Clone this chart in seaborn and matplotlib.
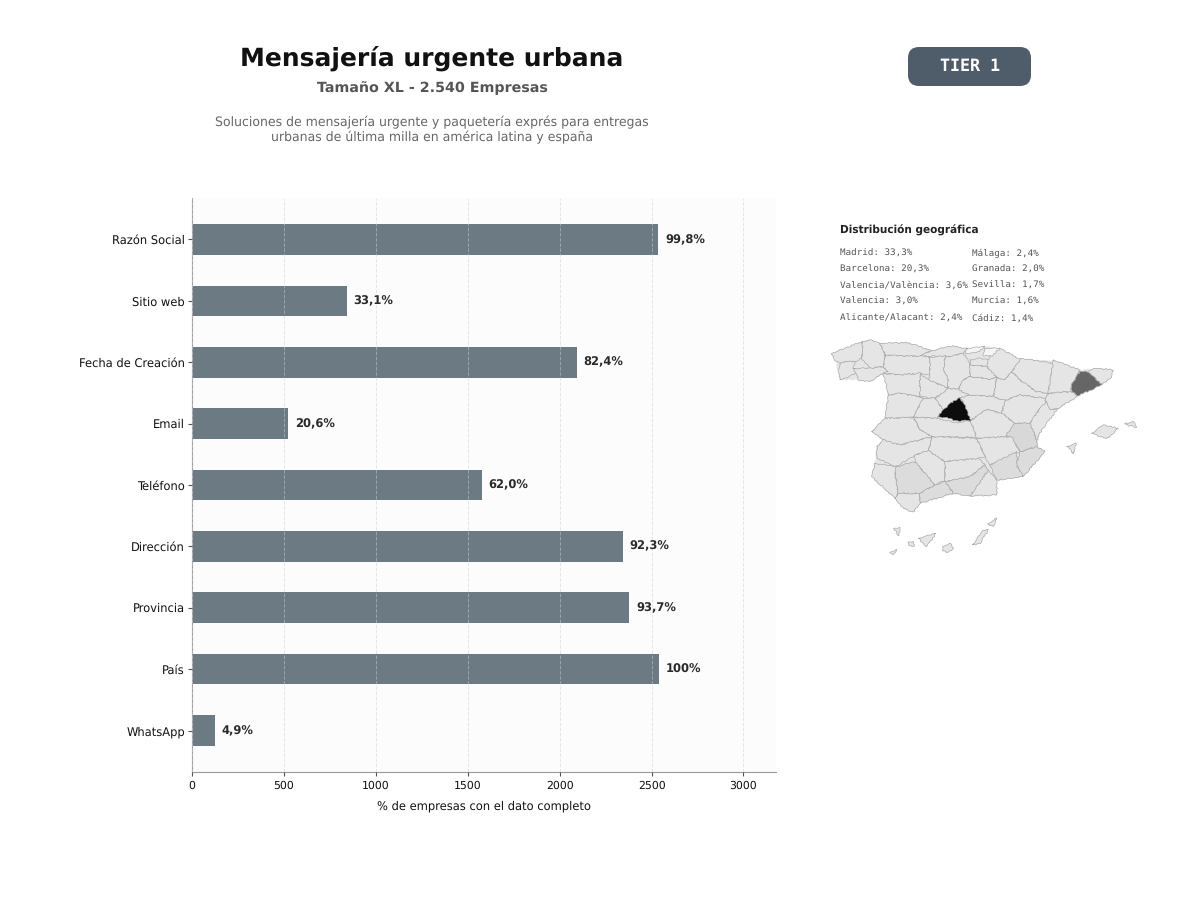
import matplotlib
matplotlib.use('Agg')
import matplotlib.pyplot as plt
import seaborn as sns
import pandas as pd
from matplotlib.patches import FancyBboxPatch, Polygon

campos = ['Razón Social', 'Sitio web', 'Fecha de Creación', 'Email', 'Teléfono',
          'Dirección', 'Provincia', 'País', 'WhatsApp']
empresas = [2535, 841, 2093, 523, 1575, 2344, 2380, 2540, 124]
etiquetas = ['99,8%', '33,1%', '82,4%', '20,6%', '62,0%', '92,3%', '93,7%', '100%', '4,9%']
ticks_x = [0, 500, 1000, 1500, 2000, 2500, 3000]

geo_col1 = ['Madrid: 33,3%', 'Barcelona: 20,3%', 'Valencia/València: 3,6%', 'Valencia: 3,0%', 'Alicante/Alacant: 2,4%']
geo_col2 = ['Málaga: 2,4%', 'Granada: 2,0%', 'Sevilla: 1,7%', 'Murcia: 1,6%', 'Cádiz: 1,4%']

# outlines traced by hand from the reference map
peninsula = [(35,70),(75,55),(125,35),(150,30),(180,40),(265,38),(335,62),(395,48),(440,55),(495,50),
             (540,55),(605,90),(700,90),(780,120),(830,115),(880,120),(875,140),(845,165),(775,197),
             (715,235),(690,245),(665,300),(650,345),(675,365),(610,440),(530,450),(530,495),(450,498),
             (400,490),(300,520),(280,547),(250,535),(225,505),(155,440),(165,400),(170,350),(190,330),
             (155,305),(195,265),(205,195),(190,130),(150,155),(115,150),(60,150),(55,125),(45,90)]
coruna = [(35,70),(75,55),(125,35),(130,60),(125,85),(105,95),(70,95),(60,100),(45,90)]
lugo = [(125,35),(150,30),(180,40),(195,75),(190,110),(150,115),(125,85),(130,60)]
pontevedra = [(60,100),(70,95),(105,95),(100,115),(110,130),(60,150),(55,125)]
ourense = [(100,115),(150,115),(190,110),(205,125),(190,130),(150,155),(115,150),(110,130)]
asturias = [(180,40),(265,38),(335,62),(300,78),(250,78),(195,75)]
cantabria = [(335,62),(395,48),(440,55),(430,70),(390,80),(340,78),(300,78)]
leon = [(195,75),(250,78),(300,78),(330,82),(330,135),(300,130),(235,135),(190,130),(205,125),(190,110)]
palencia = [(330,82),(375,78),(372,120),(385,150),(385,175),(350,160),(325,150),(330,135)]
burgos = [(375,78),(390,80),(430,70),(450,100),(450,140),(430,150),(415,178),(385,175),(385,150),(372,120)]
bizkaia = [(440,55),(495,50),(470,68),(435,70)]
gipuzkoa = [(495,55),(540,55),(515,78),(490,78)]
alava = [(450,90),(475,85),(510,90),(500,110),(450,105)]
navarra = [(510,78),(540,55),(605,90),(575,125),(555,150),(530,142),(500,110)]
rioja = [(450,105),(500,110),(530,142),(510,148),(450,140)]
huesca = [(605,85),(700,100),(685,190),(650,185),(600,150),(575,125)]
lleida = [(700,90),(780,120),(755,165),(752,185),(685,190)]
girona = [(795,125),(830,115),(880,120),(875,140),(845,165),(815,135)]
barcelona = [(780,125),(795,123),(815,135),(845,165),(775,197),(755,185),(755,165)]
tarragona = [(685,190),(752,185),(775,197),(715,235),(690,240),(675,210)]
soria = [(450,140),(510,148),(530,142),(520,200),(445,195),(415,178),(430,150)]
zaragoza = [(530,142),(555,150),(575,125),(600,150),(650,185),(685,190),(675,205),(600,195),(555,212),(520,200)]
teruel = [(555,212),(600,195),(675,205),(680,225),(660,235),(630,280),(585,280),(545,250)]
castellon = [(680,215),(690,240),(712,238),(665,300),(650,330),(630,280),(660,235)]
guadalajara = [(445,195),(520,200),(555,212),(545,250),(500,238),(450,272),(430,215),(420,205)]
segovia = [(345,205),(385,175),(415,178),(445,195),(420,205),(370,240)]
valladolid = [(300,130),(325,150),(350,160),(385,175),(345,205),(300,200)]
zamora = [(190,130),(235,135),(300,130),(300,200),(240,190),(205,195)]
salamanca = [(205,195),(240,190),(300,200),(310,205),(280,262),(195,265)]
avila = [(310,205),(345,205),(370,240),(350,265),(280,262)]
madrid = [(418,203),(428,215),(440,240),(452,272),(405,272),(375,262),(352,262),(370,240),(395,218)]
toledo = [(280,262),(350,265),(405,278),(452,272),(470,322),(335,320),(300,300)]
cuenca = [(452,272),(500,238),(545,250),(585,280),(560,320),(470,325)]
valencia = [(585,280),(630,280),(650,330),(650,350),(600,365),(575,320),(558,315)]
alicante = [(600,365),(650,350),(675,365),(610,440),(590,405)]
murcia = [(510,405),(590,365),(590,405),(610,440),(530,450)]
albacete = [(470,325),(560,320),(575,320),(600,365),(510,405),(495,380)]
ciudad_real = [(335,320),(470,325),(495,380),(475,385),(375,395),(325,362)]
caceres = [(155,305),(195,265),(280,262),(300,300),(335,320),(240,345),(190,330)]
badajoz = [(170,350),(190,330),(240,345),(335,320),(325,362),(285,375),(230,410),(170,385)]
huelva = [(165,400),(230,410),(225,430),(235,490),(225,505),(155,440)]
sevilla = [(230,410),(285,395),(345,465),(300,490),(235,490),(225,430)]
cordoba = [(285,375),(325,362),(375,395),(375,450),(345,465),(285,395)]
jaen = [(375,395),(475,385),(495,405),(450,440),(375,455)]
granada = [(375,455),(450,440),(495,405),(505,420),(450,498),(400,490)]
almeria = [(505,420),(530,450),(530,495),(450,498)]
malaga = [(345,465),(375,455),(400,490),(300,520),(300,490)]
cadiz = [(225,505),(235,490),(300,490),(300,520),(280,547),(250,535)]
mallorca = [(815,310),(850,285),(895,295),(860,327)]
menorca = [(915,280),(940,275),(950,292),(925,286)]
ibiza = [(740,350),(768,340),(760,372),(750,355)]
tenerife = [(295,625),(348,610),(320,650)]
la_palma = [(222,595),(240,592),(236,618)]
la_gomera = [(265,636),(280,634),(282,648),(268,648)]
gran_canaria = [(368,650),(390,640),(400,655),(385,668),(368,660)]
fuerteventura = [(458,645),(490,600),(505,600),(480,640)]
lanzarote = [(503,582),(530,565),(520,590)]
el_hierro = [(210,667),(230,658),(220,674)]

provincias_base = [coruna, lugo, pontevedra, ourense, asturias, cantabria, leon, palencia, burgos,
                   alava, navarra, rioja, huesca, lleida, girona, tarragona, soria, zaragoza, teruel,
                   castellon, guadalajara, segovia, valladolid, zamora, salamanca, avila, toledo,
                   cuenca, albacete, ciudad_real, caceres, badajoz, huelva, cordoba, jaen, almeria,
                   cadiz, mallorca, menorca, ibiza, tenerife, la_palma, la_gomera, gran_canaria,
                   fuerteventura, lanzarote, el_hierro]
provincias_medias = [alicante, murcia, sevilla, granada, malaga]
provincias_claras = [bizkaia, gipuzkoa]

sns.set_theme(style='white')
plt.rcParams['font.family'] = 'DejaVu Sans'
plt.rcParams['text.hinting'] = 'none'

df = pd.DataFrame({'campo': campos, 'empresas': empresas})

fig = plt.figure(figsize=(12, 9), dpi=100)
ax = fig.add_axes([192/1200, 1-772/900, 584/1200, 574/900])
sns.barplot(data=df, x='empresas', y='campo', color='#6c7a83', saturation=1, width=0.5, ax=ax,
            zorder=2, linewidth=0)

ax.set_facecolor('#fcfcfc')
ax.set_xlim(0, 3177)
ax.set_ylim(8.676, -0.676)
ax.set_xticks(ticks_x)
ax.grid(axis='x', color='#cfcfcf', linestyle='--', linewidth=0.7, alpha=0.5, zorder=3)
ax.grid(axis='y', visible=False)
ax.set_axisbelow(False)
ax.set_ylabel('')
ax.set_xlabel('% de empresas con el dato completo', fontsize=8.3, color='#111111', labelpad=7)
ax.tick_params(axis='y', labelsize=8.3, length=3, width=0.8, color='#555555', left=True, labelcolor='#111111', pad=2)
ax.tick_params(axis='x', labelsize=7.8, length=3, width=0.8, color='#555555', bottom=True, labelcolor='#111111', pad=3)
sns.despine(ax=ax)
for lado in ['left', 'bottom']:
    ax.spines[lado].set_color('#999999')
    ax.spines[lado].set_linewidth(0.8)

for i, (v, t) in enumerate(zip(empresas, etiquetas)):
    ax.annotate(t, (v, i), xytext=(5, 0), textcoords='offset points', va='center', ha='left',
                fontsize=8.3, fontweight='bold', color='#2a2a2a')

# full-figure overlay in reference pixels for the header and side text
over = fig.add_axes([0, 0, 1, 1], facecolor='none')
over.set_xlim(0, 1200)
over.set_ylim(900, 0)
over.axis('off')
over.text(432, 58, 'Mensajería urgente urbana', ha='center', va='center', fontsize=18, fontweight='bold', color='#111111')
over.text(432, 88, 'Tamaño XL - 2.540 Empresas', ha='center', va='center', fontsize=10.3, fontweight='bold', color='#555555')
over.text(432, 130, 'Soluciones de mensajería urgente y paquetería exprés para entregas\nurbanas de última milla en américa latina y españa',
          ha='center', va='center', fontsize=9, color='#666666', linespacing=1.15)
over.add_patch(FancyBboxPatch((908, 47), 123, 39, boxstyle='round,pad=0,rounding_size=11',
                              facecolor='#4f5d6b', edgecolor='none'))
over.text(970, 66, 'TIER 1', ha='center', va='center', fontsize=12, fontweight='bold', family='DejaVu Sans Mono', color='white')
over.text(840, 230, 'Distribución geográfica', ha='left', va='center', fontsize=7.6, fontweight='bold', color='#222222')
for i, (a, b) in enumerate(zip(geo_col1, geo_col2)):
    y = 253 + i * 16.2
    over.text(840, y, a, ha='left', va='center', fontsize=6.7, family='DejaVu Sans Mono', color='#555555')
    over.text(971.5, y, b, ha='left', va='center', fontsize=6.7, family='DejaVu Sans Mono', color='#555555')

mapa = fig.add_axes([820/1200, 1-565/900, 330/1200, 235/900], facecolor='none')
mapa.set_xlim(0, 990)
mapa.set_ylim(705, 0)
mapa.axis('off')

def pinta(forma, relleno, borde='#a4a4a4'):
    trozo = Polygon(forma, closed=True, facecolor=relleno, edgecolor=borde, linewidth=0.45)
    trozo.set_sketch_params(scale=0.6, length=14, randomness=10)
    mapa.add_patch(trozo)

pinta(peninsula, '#e5e5e5', 'none')
for p in provincias_base:
    pinta(p, '#e5e5e5')
for p in provincias_medias:
    pinta(p, '#dcdcdc')
for p in provincias_claras:
    pinta(p, '#f5f5f5')
pinta(valencia, '#d8d8d8')
pinta(barcelona, '#666666')
pinta(madrid, '#0d0d0d')

fig.savefig('out.png', dpi=100)
